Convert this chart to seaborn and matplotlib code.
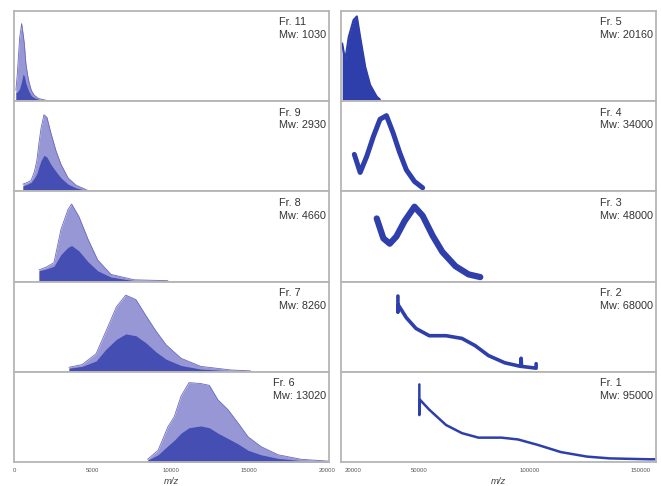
import numpy as np
import pandas as pd
import seaborn as sns
import matplotlib
matplotlib.use("Agg")
import matplotlib.pyplot as plt

# ---------------- data ----------------
# Left column: low-mass fractions (m/z, outer envelope, dense inner part)
fr11_mz    = [60, 150, 300, 430, 520, 600, 700, 820, 920, 1050, 1220, 1500, 2000, 2300]
fr11_int   = [0.12, 0.30, 0.70, 0.86, 0.75, 0.64, 0.42, 0.28, 0.20, 0.12, 0.07, 0.03, 0.01, 0.0]
fr11_base  = [0.10, 0.10, 0.14, 0.22, 0.30, 0.28, 0.20, 0.14, 0.10, 0.06, 0.04, 0.02, 0.01, 0.0]

fr9_mz     = [510, 800, 1030, 1250, 1410, 1550, 1670, 1860, 2050, 2300, 2630, 2950, 3400, 3900, 4550, 4800]
fr9_int    = [0.08, 0.10, 0.12, 0.22, 0.35, 0.55, 0.70, 0.85, 0.82, 0.65, 0.45, 0.30, 0.15, 0.07, 0.02, 0.0]
fr9_base   = [0.06, 0.08, 0.10, 0.15, 0.20, 0.28, 0.34, 0.40, 0.38, 0.30, 0.22, 0.15, 0.08, 0.04, 0.01, 0.0]

fr8_mz     = [1540, 2000, 2500, 2950, 3400, 3630, 4100, 4680, 5300, 6150, 7630, 9800]
fr8_int    = [0.13, 0.16, 0.21, 0.58, 0.80, 0.86, 0.72, 0.47, 0.24, 0.08, 0.02, 0.01]
fr8_base   = [0.12, 0.14, 0.17, 0.30, 0.38, 0.40, 0.34, 0.22, 0.12, 0.05, 0.01, 0.005]

fr7_mz     = [3460, 4300, 5200, 5830, 6500, 7100, 7750, 8400, 9040, 9680, 10640, 11900, 13850, 15100]
fr7_int    = [0.05, 0.08, 0.20, 0.45, 0.72, 0.85, 0.80, 0.62, 0.45, 0.30, 0.15, 0.06, 0.02, 0.01]
fr7_base   = [0.04, 0.06, 0.12, 0.25, 0.36, 0.42, 0.40, 0.32, 0.22, 0.14, 0.07, 0.03, 0.01, 0.005]

fr6_mz     = [8500, 9170, 9800, 10200, 10640, 11150, 11900, 12450, 13000, 13650, 14300, 14930, 15770, 16860, 18330, 20060]
fr6_int    = [0.03, 0.13, 0.39, 0.50, 0.73, 0.88, 0.87, 0.85, 0.69, 0.58, 0.43, 0.28, 0.17, 0.08, 0.03, 0.01]
fr6_base   = [0.02, 0.08, 0.18, 0.24, 0.32, 0.38, 0.40, 0.38, 0.32, 0.26, 0.20, 0.13, 0.08, 0.04, 0.015, 0.005]

# Right column: high-mass fractions (m/z, intensity)
fr5_mz     = [14960, 15600, 16400, 17900, 20100, 21600, 23100, 25400, 27600, 30600, 32000]
fr5_int    = [0.64, 0.55, 0.46, 0.71, 0.90, 0.94, 0.71, 0.38, 0.18, 0.05, 0.02]

fr4_mz     = [20450, 23100, 26100, 29100, 32100, 35000, 38000, 41000, 44000, 47700, 51400]
fr4_int    = [0.41, 0.21, 0.39, 0.61, 0.80, 0.84, 0.65, 0.43, 0.24, 0.11, 0.04]

fr3_mz     = [30600, 33600, 36500, 39500, 43200, 47700, 51400, 55900, 60300, 66300, 72200, 77500]
fr3_int    = [0.70, 0.48, 0.42, 0.50, 0.67, 0.83, 0.73, 0.51, 0.33, 0.17, 0.08, 0.05]

fr2_mz     = [40200, 40200, 40400, 44000, 48400, 54400, 62000, 69200, 75200, 81200, 88600,
              95800, 96000, 96200, 102800, 102800]
fr2_int    = [0.84, 0.66, 0.74, 0.60, 0.48, 0.40, 0.40, 0.37, 0.29, 0.18, 0.10,
              0.06, 0.15, 0.06, 0.04, 0.09]

fr1_mz     = [49900, 49900, 50200, 54400, 62000, 69200, 76700, 87100, 94600, 103500, 114000,
              125800, 136200, 154000, 157000]
fr1_int    = [0.86, 0.52, 0.69, 0.58, 0.41, 0.32, 0.27, 0.27, 0.25, 0.19, 0.11,
              0.06, 0.04, 0.03, 0.03]

left_labels  = ["Fr. 11\nMw: 1030", "Fr. 9\nMw: 2930", "Fr. 8\nMw: 4660",
                "Fr. 7\nMw: 8260", "Fr. 6\nMw: 13020"]
right_labels = ["Fr. 5\nMw: 20160", "Fr. 4\nMw: 34000", "Fr. 3\nMw: 48000",
                "Fr. 2\nMw: 68000", "Fr. 1\nMw: 95000"]

left_ticks  = [0, 5000, 10000, 15000, 20000]
right_ticks = [20000, 50000, 100000, 150000]

left_series = [(fr11_mz, fr11_int, fr11_base), (fr9_mz, fr9_int, fr9_base),
               (fr8_mz, fr8_int, fr8_base), (fr7_mz, fr7_int, fr7_base),
               (fr6_mz, fr6_int, fr6_base)]
right_series = [(fr5_mz, fr5_int), (fr4_mz, fr4_int), (fr3_mz, fr3_int),
                (fr2_mz, fr2_int), (fr1_mz, fr1_int)]
right_lw = [None, 3.6, 4.5, 2.6, 1.8]

# ---------------- styling ----------------
sns.set_theme(style="white")
plt.rcParams['font.family'] = ['Liberation Sans', 'DejaVu Sans']

LINE = "#2e3eaa"
LIGHT = "#8585cf"
DARK = "#3b46b0"
FRAME = "#b5b5b5"

fig = plt.figure(figsize=(6.61, 4.86), dpi=100)
gs = fig.add_gridspec(5, 2, left=14/661, right=656/661, top=1-11/486,
                      bottom=1-462/486, hspace=0, wspace=0.035)

def style_ax(ax, xlim, ticks, last):
    ax.set_xlim(*xlim)
    ax.set_ylim(0, 1.0)
    ax.set_yticks([])
    ax.set_ylabel("")
    for s in ax.spines.values():
        s.set_color(FRAME)
        s.set_linewidth(1.3)
    ax.set_xticks(ticks)
    if last:
        ax.set_xticklabels([str(t) for t in ticks], fontsize=4.3, color="#555555")
        ax.tick_params(axis="x", length=2, width=0.6, color="#888888", pad=2)
        ax.set_xlabel("m/z", fontsize=6.8, style="italic", color="#444444", labelpad=3)
    else:
        ax.set_xticklabels([])
        ax.tick_params(axis="x", length=0)
        ax.set_xlabel("")

for i in range(5):
    ax = fig.add_subplot(gs[i, 0])
    mz, it, base = left_series[i]
    df = pd.DataFrame({"mz": mz, "int": it, "base": base})
    ax.fill_between(df["mz"], 0, df["int"], color=LIGHT, alpha=0.85, lw=0)
    ax.fill_between(df["mz"], 0, df["base"], color=DARK, alpha=0.9, lw=0)
    sns.lineplot(data=df, x="mz", y="int", ax=ax, color="#6a6ac0", lw=0.6,
                 sort=False, estimator=None, legend=False)
    ax.text(0.99, 0.93, left_labels[i], transform=ax.transAxes, ha="right",
            va="top", multialignment="left", fontsize=7.8, color="#333333",
            linespacing=1.35)
    style_ax(ax, (-60, 20150), left_ticks, i == 4)

for i in range(5):
    ax = fig.add_subplot(gs[i, 1])
    mz, it = right_series[i]
    df = pd.DataFrame({"mz": mz, "int": it})
    if i == 0:
        ax.fill_between(df["mz"], 0, df["int"], color=LINE, lw=0)
        sns.lineplot(data=df, x="mz", y="int", ax=ax, color=LINE, lw=1.5,
                     sort=False, estimator=None, legend=False)
    else:
        sns.lineplot(data=df, x="mz", y="int", ax=ax, color=LINE, lw=right_lw[i],
                     sort=False, estimator=None, legend=False,
                     solid_joinstyle="round", solid_capstyle="round")
    ax.text(0.99, 0.93, right_labels[i], transform=ax.transAxes, ha="right",
            va="top", multialignment="left", fontsize=7.8, color="#333333",
            linespacing=1.35)
    style_ax(ax, (14200, 157100), right_ticks, i == 4)

fig.savefig("out.png", dpi=100)
